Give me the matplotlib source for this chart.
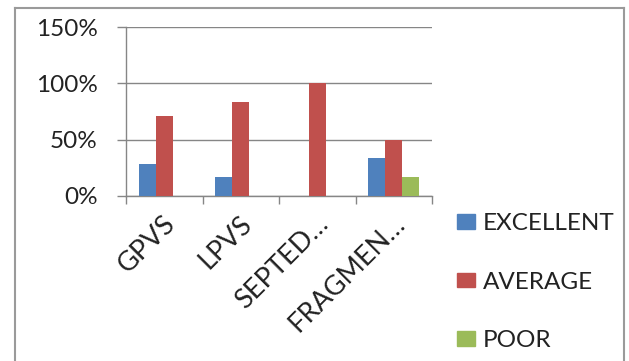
import matplotlib
matplotlib.use("Agg")
import matplotlib.pyplot as plt
from matplotlib.patches import Rectangle
from matplotlib.lines import Line2D
import matplotlib.transforms as mtransforms
import numpy as np

# Data
categories = ["GPVS", "LPVS", "SEPTED\u2026", "FRAGMEN\u2026"]
series_names = ["EXCELLENT", "AVERAGE", "POOR"]
excellent = [0.286, 0.167, 0.0, 0.333]
average = [0.714, 0.833, 1.0, 0.5]
poor = [0.0, 0.0, 0.0, 0.167]
y_ticks = [0.0, 0.5, 1.0, 1.5]
y_tick_labels = ["0%", "50%", "100%", "150%"]

colors = ["#4F81BD", "#C0504D", "#9BBB59"]
grid_col = "#868686"
txt_col = "#222222"
fs = 17.5

plt.rcParams["font.family"] = ["Lato", "DejaVu Sans"]

fig = plt.figure(figsize=(6.29, 3.61), dpi=100)
ax = fig.add_axes([126 / 629, 1 - 196 / 361, 306 / 629, 169 / 361])

x = np.arange(len(categories))
w = 1 / 4.5
for i, vals in enumerate([excellent, average, poor]):
    ax.bar(x + (i - 1) * w, vals, width=w, color=colors[i],
           label=series_names[i], zorder=3)

ax.set_xlim(-0.5, len(categories) - 0.5)
ax.set_ylim(0, 1.5)
ax.set_yticks(y_ticks)
ax.set_yticklabels(y_tick_labels)
ax.yaxis.grid(True, color=grid_col, linewidth=1.0, zorder=0)
for s in ["top", "right"]:
    ax.spines[s].set_visible(False)
for s in ["left", "bottom"]:
    ax.spines[s].set_color(grid_col)
    ax.spines[s].set_linewidth(1.0)

ax.tick_params(axis="y", length=6.5, width=1.0, color=grid_col, pad=14,
               labelsize=fs, labelcolor=txt_col)
# category ticks sit between the groups
ax.set_xticks(np.arange(-0.5, len(categories), 1.0), minor=True)
ax.set_xticks(x)
ax.tick_params(axis="x", which="minor", length=5.5, width=1.0, color=grid_col)
ax.tick_params(axis="x", which="major", length=0, pad=11)
ax.set_xticklabels(categories, rotation=45, ha="right", va="top",
                   rotation_mode="anchor", fontsize=19.5, color=txt_col)
offset = mtransforms.ScaledTranslation(-1 / 72, 0, fig.dpi_scale_trans)
for lbl in ax.get_xticklabels():
    lbl.set_transform(lbl.get_transform() + offset)

handles = [Rectangle((0, 0), 1, 1, color=c) for c in colors]
leg = fig.legend(handles, series_names, loc="upper left",
                 bbox_to_anchor=(457 / 629, 1 - 213 / 361),
                 frameon=False, fontsize=fs, handlelength=0.74,
                 handleheight=0.55, handletextpad=0.33, labelspacing=1.55,
                 borderpad=0, borderaxespad=0)
for t in leg.get_texts():
    t.set_color(txt_col)

# chart border
bc = "#9a9a9a"
fig.add_artist(Line2D([14.5 / 629, 14.5 / 629], [0, 1 - 8 / 361], color=bc,
                      lw=1.5, transform=fig.transFigure))
fig.add_artist(Line2D([14.5 / 629, 624 / 629], [1 - 8 / 361, 1 - 8 / 361],
                      color=bc, lw=1.5, transform=fig.transFigure))
fig.add_artist(Line2D([624 / 629, 624 / 629], [0, 1 - 8 / 361], color=bc,
                      lw=1.5, transform=fig.transFigure))

fig.savefig("out.png", dpi=100)
